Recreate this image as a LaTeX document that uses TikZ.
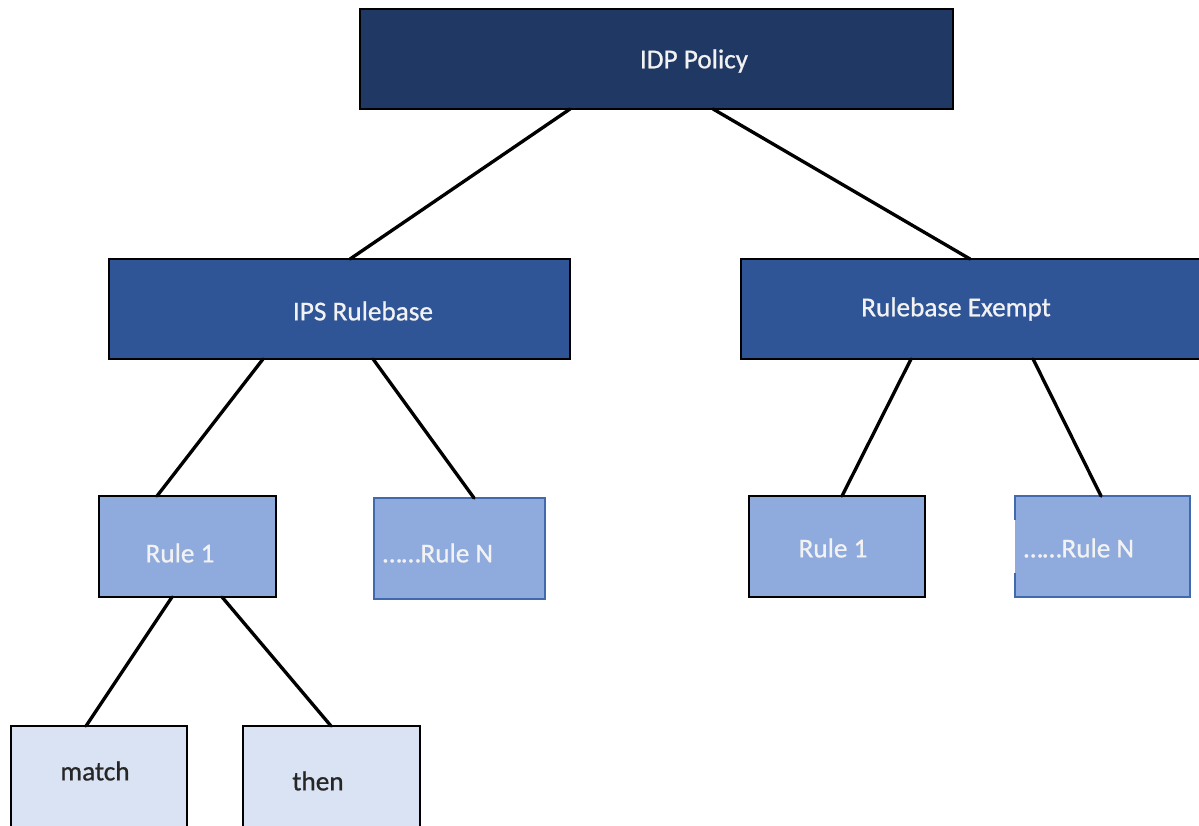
\documentclass[tikz,border=0pt]{standalone}
\usepackage{fontspec}
\setmainfont{Carlito}
\newfontfamily\boxfont[FakeBold=0.8]{Carlito}
\usetikzlibrary{calc}
\definecolor{navy}{HTML}{203864}
\definecolor{midblue}{HTML}{2F5597}
\definecolor{ruleblue}{HTML}{8FAADC}
\definecolor{paleblue}{HTML}{DAE3F3}
\definecolor{edgeblue}{HTML}{4169AE}
\definecolor{lighttext}{HTML}{F2F2F2}
\definecolor{darktext}{HTML}{262626}
\tikzset{
  box/.style={rectangle, draw=black, line width=0.9pt, outer sep=0pt, inner sep=0pt},
  topbox/.style={box, fill=navy, minimum height=2cm},
  midbox/.style={box, fill=midblue, minimum height=2cm},
  rulebox/.style={box, fill=ruleblue, minimum height=2.02cm, minimum width=3.52cm},
  leafbox/.style={box, fill=paleblue, minimum height=2.2cm, minimum width=3.52cm},
  wtxt/.style={text=lighttext, font=\boxfont\fontsize{15.5}{18}\selectfont, inner sep=0pt},
  dtxt/.style={text=darktext, font=\boxfont\fontsize{15.5}{18}\selectfont, inner sep=0pt},
  link/.style={line width=1.9pt, line cap=round}
}
\begin{document}
\begin{tikzpicture}[x=0.02cm, y=-0.02cm]
\clip (0,0) rectangle (1199,825);
\fill[white] (0,0) rectangle (1199,825);
% boxes
\node[topbox, minimum width=11.86cm] (idp) at (656.5,59) {};
\node[midbox, minimum width=9.22cm] (ips) at (339.5,309) {};
\node[midbox, minimum width=9.26cm] (exm) at (972.5,309) {};
\node[rulebox, minimum width=3.54cm] (r1l) at (187.5,546.5) {};
\node[rulebox, draw=edgeblue, minimum width=3.42cm] (rnl) at (459.5,548.5) {};
\node[rulebox] (r1r) at (837,546.5) {};
\node[rulebox, draw=none, minimum width=3.5cm] (rnr) at (1102.5,546.5) {};
\draw[edgeblue, line width=0.9pt] (rnr.north west) ++(0,24) -- (rnr.north west) -- (rnr.north east) -- (rnr.south east) -- (rnr.south west) -- ++(0,-24);
\node[leafbox] (match) at (99,781) {};
\node[leafbox, minimum width=3.54cm] (then) at (331.5,781) {};
% texts
\node[wtxt] (idpT) at (694,61) {IDP Policy};
\node[wtxt] (ipsT) at (363,311) {IPS Rulebase};
\node[wtxt] (exmT) at (956,309) {Rulebase Exempt};
\node[wtxt] (r1lT) at (180,553) {Rule 1};
\node[wtxt] (rnlT) at (438,553) {……Rule N};
\node[wtxt] (r1rT) at (833,548) {Rule 1};
\node[wtxt] (rnrT) at (1079,548) {……Rule N};
\node[dtxt] (matchT) at (95,771) {match};
\node[dtxt] (thenT) at (318,781) {then};
% connectors
\draw[link] ($(idp.south west)+(210,0)$) -- ($(ips.north west)+(241,0)$);
\draw[link] ($(idp.south west)+(353,0)$) -- ($(exm.north west)+(229,0)$);
\draw[link] ($(ips.south west)+(154,0)$) -- ($(r1l.north west)+(58,0)$);
\draw[link] ($(ips.south west)+(264,0)$) -- ($(rnl.north west)+(100,0)$);
\draw[link] ($(exm.south west)+(170,0)$) -- ($(r1r.north west)+(93,0)$);
\draw[link] ($(exm.south west)+(292,0)$) -- ($(rnr.north west)+(86,0)$);
\draw[link] ($(r1l.south west)+(73,0)$) -- ($(match.north west)+(75,0)$);
\draw[link] ($(r1l.south west)+(123,0)$) -- ($(then.north west)+(88,0)$);
\end{tikzpicture}
\end{document}
